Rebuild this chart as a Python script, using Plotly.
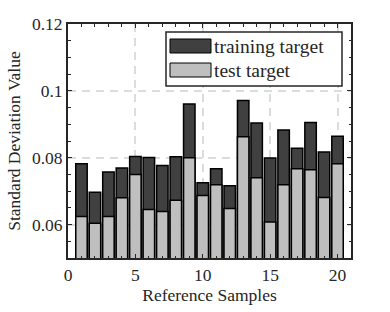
import plotly.graph_objects as go

samples = list(range(1, 21))
training_target = [0.0782, 0.0697, 0.0757, 0.0769, 0.0804, 0.0801, 0.0777, 0.0803, 0.0961, 0.0725,
                   0.0767, 0.0716, 0.0971, 0.0904, 0.0799, 0.0883, 0.0828, 0.0905, 0.0817, 0.0864]
test_target = [0.0624, 0.0604, 0.0624, 0.0680, 0.0750, 0.0645, 0.0639, 0.0673, 0.0800, 0.0687,
               0.0719, 0.0648, 0.0863, 0.0740, 0.0608, 0.0719, 0.0767, 0.0764, 0.0681, 0.0782]
series_names = ["training target", "test target"]
colors = ["#404040", "#bfbfbf"]

x_ticks = [0, 5, 10, 15, 20]
y_ticks = [0.06, 0.08, 0.1, 0.12]
y_ticktext = ["0.06", "0.08", "0.1", "0.12"]

FONT = "Liberation Serif"
FS = 17.5

fig = go.Figure()
for name, vals, col in zip(series_names, [training_target, test_target], colors):
    fig.add_trace(go.Bar(x=samples, y=vals, name=name, width=0.85,
                         marker=dict(color=col, line=dict(color="black", width=1.5)),
                         showlegend=False, hoverinfo="skip"))

axis_common = dict(showline=True, linecolor="#262626", linewidth=2, mirror="allticks",
                   ticks="inside", ticklen=4, tickcolor="#262626", tickwidth=1,
                   showgrid=True, gridcolor="#dcdcdc", griddash="8px,6px", gridwidth=1.5,
                   zeroline=False, automargin=False,
                   tickfont=dict(family=FONT, size=FS, color="#262626"))

fig.update_layout(
    width=390, height=312,
    margin=dict(l=68, r=39, t=24, b=54),
    paper_bgcolor="white", plot_bgcolor="white",
    barmode="overlay",
    font=dict(family=FONT, size=FS, color="#262626"),
    xaxis=dict(range=[0, 21], tickvals=x_ticks,
               minor=dict(dtick=1, tick0=0, ticks="inside", ticklen=2.5, tickcolor="#262626", showgrid=False),
               title=dict(text="Reference Samples", font=dict(family=FONT, size=FS), standoff=1),
               **axis_common),
    yaxis=dict(range=[0.05, 0.12], tickvals=y_ticks, ticktext=y_ticktext,
               minor=dict(dtick=0.005, tick0=0.05, ticks="inside", ticklen=2.5, tickcolor="#262626", showgrid=False),
               title=dict(text="Standard Deviation Value", font=dict(family=FONT, size=FS), standoff=7),
               **axis_common),
)

# legend box drawn in paper coordinates
def px2paper_x(px):
    return (px - 68) / (351 - 68)

def px2paper_y(py):
    return (258 - py) / (258 - 24)

fig.add_shape(type="rect", xref="paper", yref="paper",
              x0=px2paper_x(166), x1=px2paper_x(342), y0=px2paper_y(86), y1=px2paper_y(32),
              line=dict(color="#262626", width=1.5), fillcolor="white", layer="above")
for i, (name, col) in enumerate(zip(series_names, colors)):
    yc = 46 + i * 24
    fig.add_shape(type="rect", xref="paper", yref="paper",
                  x0=px2paper_x(170), x1=px2paper_x(211), y0=px2paper_y(yc + 7), y1=px2paper_y(yc - 7),
                  line=dict(color="black", width=1), fillcolor=col, layer="above")
    fig.add_annotation(xref="paper", yref="paper", x=px2paper_x(212), y=px2paper_y(yc),
                       text=name, showarrow=False, xanchor="left", yanchor="middle",
                       font=dict(family=FONT, size=19.5, color="#262626"))

fig.write_html("out.html", config={"displayModeBar": False},
               post_script="document.body.style.margin='0';document.body.style.overflow='hidden';")
